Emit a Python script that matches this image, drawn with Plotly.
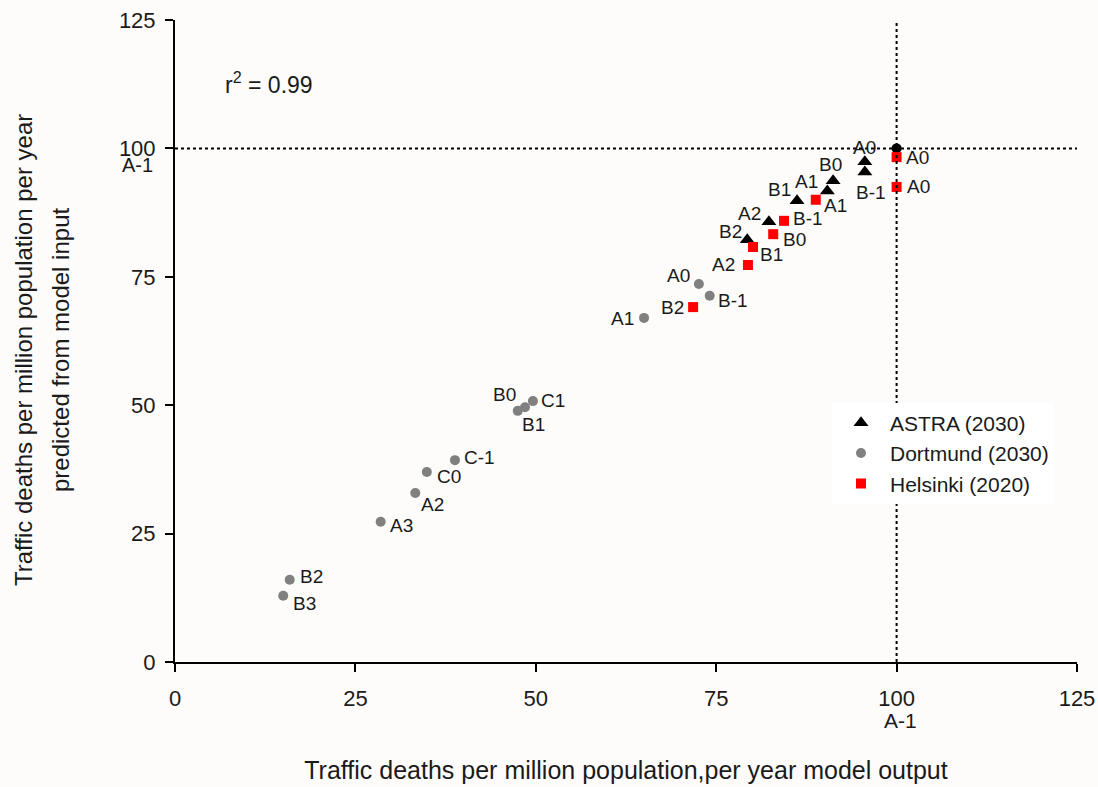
import plotly.graph_objects as go

# Model output (x) vs. deaths predicted from model input (y), per million population per year
astra_x = [95.6, 95.6, 91.2, 90.4, 86.2, 82.3, 79.3]
astra_y = [97.4, 95.4, 93.7, 91.7, 89.8, 85.7, 82.2]
astra_lbl = ["A0", "B-1", "B0", "A1", "B1", "A2", "B2"]

dortmund_x = [72.6, 74.1, 65.0, 47.5, 48.5, 49.6, 38.8, 34.9, 33.3, 28.5, 15.9, 15.0]
dortmund_y = [73.6, 71.3, 67.0, 48.9, 49.6, 50.8, 39.3, 37.0, 32.9, 27.3, 16.0, 12.9]
dortmund_lbl = ["A0", "B-1", "A1", "B0", "B1", "C1", "C-1", "C0", "A2", "A3", "B2", "B3"]

helsinki_x = [100.0, 100.0, 88.8, 84.4, 82.9, 80.1, 79.4, 71.8]
helsinki_y = [98.3, 92.5, 90.0, 85.9, 83.3, 80.8, 77.3, 69.1]
helsinki_lbl = ["A0", "A0", "A1", "B-1", "B0", "B1", "A2", "B2"]

# Reference scenario A-1
ref_x = [100.0]
ref_y = [100.0]

r2_text = "r<sup>2</sup> = 0.99"
axis_ticks = [0, 25, 50, 75, 100, 125]

# Label placement around each marker (pixels, right / down)
astra_off = [(0, -14), (6, 20), (-3, -16), (-21, -10), (-18, -11), (-19, -8), (-17, -8)]
dortmund_off = [(-20, -8), (23, 5), (-22, 1), (-13, -16), (9, 17), (20, -1),
                (25, -3), (22, 5), (17, 11), (21, 4), (22, -3), (21, 8)]
helsinki_off = [(21, 0), (22, 0), (20, 6), (24, -2), (21, 5), (18, 7), (-24, 0), (-21, 0)]

FONT = "Arial, Liberation Sans, sans-serif"
TXT = "#1a1a1a"
BG = "#fdfcfa"

L, R, T, B = 175, 21, 20, 125
W = 1098 - L - R
H = 787 - T - B

fig = go.Figure()

fig.add_trace(go.Scatter(
    x=ref_x, y=ref_y, mode="markers", showlegend=False,
    marker=dict(symbol="circle", size=10, color="black"), cliponaxis=False))
fig.add_trace(go.Scatter(
    x=astra_x, y=astra_y, mode="markers", name="ASTRA (2030)",
    marker=dict(symbol="triangle-up", size=13, color="black"), cliponaxis=False))
fig.add_trace(go.Scatter(
    x=dortmund_x, y=dortmund_y, mode="markers", name="Dortmund (2030)",
    marker=dict(symbol="circle", size=10, color="#808080"), cliponaxis=False))
fig.add_trace(go.Scatter(
    x=helsinki_x, y=helsinki_y, mode="markers", name="Helsinki (2020)",
    marker=dict(symbol="square", size=10, color="#ff0000"), cliponaxis=False))

annotations = []
for xs, ys, lbls, offs in [(astra_x, astra_y, astra_lbl, astra_off),
                           (dortmund_x, dortmund_y, dortmund_lbl, dortmund_off),
                           (helsinki_x, helsinki_y, helsinki_lbl, helsinki_off)]:
    for x, y, t, (dx, dy) in zip(xs, ys, lbls, offs):
        annotations.append(dict(x=x, y=y, xref="x", yref="y", text=t, showarrow=False,
                                xanchor="center", yanchor="middle", xshift=dx, yshift=-dy,
                                font=dict(family=FONT, size=19, color=TXT)))

# A-1 names under the 100 ticks
annotations.append(dict(x=0, y=100, xref="x", yref="y", text="A-1", showarrow=False,
                        xanchor="right", yanchor="middle", xshift=-20, yshift=-17,
                        font=dict(family=FONT, size=20, color=TXT)))
annotations.append(dict(x=100, y=0, xref="x", yref="y", text="A-1", showarrow=False,
                        xanchor="center", yanchor="middle", xshift=4, yshift=-58,
                        font=dict(family=FONT, size=21, color=TXT)))
annotations.append(dict(x=(223 - L) / W, y=(662 - 83) / H, xref="paper", yref="paper",
                        text=r2_text, showarrow=False, xanchor="left", yanchor="middle",
                        font=dict(family=FONT, size=23, color=TXT)))
# Two-line y-axis title
annotations.append(dict(x=(24 - L) / W, y=(662 - 350) / H, xref="paper", yref="paper",
                        text="Traffic deaths per million population per year",
                        showarrow=False, textangle=-90, xanchor="center", yanchor="middle",
                        font=dict(family=FONT, size=24, color=TXT)))
annotations.append(dict(x=(61 - L) / W, y=(662 - 350) / H, xref="paper", yref="paper",
                        text="predicted from model input",
                        showarrow=False, textangle=-90, xanchor="center", yanchor="middle",
                        font=dict(family=FONT, size=24, color=TXT)))

shapes = [
    dict(type="line", xref="x", yref="y", x0=0, x1=125, y0=100, y1=100,
         line=dict(color="black", width=2, dash="dot")),
    dict(type="line", xref="x", yref="y", x0=100, x1=100, y0=0, y1=125,
         line=dict(color="black", width=2, dash="dot")),
]

fig.update_layout(
    width=1098, height=787,
    margin=dict(l=L, r=R, t=T, b=B),
    paper_bgcolor=BG, plot_bgcolor=BG,
    font=dict(family=FONT, size=20, color=TXT),
    annotations=annotations,
    shapes=shapes,
    showlegend=True,
    legend=dict(x=(832 - L) / W, y=0.404, xanchor="left", yanchor="top",
                bgcolor="#ffffff", borderwidth=0, itemwidth=48,
                font=dict(family=FONT, size=21, color=TXT)),
    xaxis=dict(range=[0, 125], tickvals=axis_ticks, showgrid=False, zeroline=False,
               showline=True, linecolor="black", linewidth=2, automargin=False,
               ticks="outside", ticklen=8, tickwidth=2, tickcolor="black",
               ticklabelstandoff=8,
               tickfont=dict(family=FONT, size=22, color=TXT),
               title=dict(text="Traffic deaths per million population,per year model output",
                          font=dict(family=FONT, size=25, color=TXT), standoff=51)),
    yaxis=dict(range=[0, 125], tickvals=axis_ticks, showgrid=False, zeroline=False,
               showline=True, linecolor="black", linewidth=2, automargin=False,
               ticks="outside", ticklen=8, tickwidth=2, tickcolor="black",
               ticklabelstandoff=5,
               tickfont=dict(family=FONT, size=22, color=TXT)),
)

fig.write_html("out.html")
